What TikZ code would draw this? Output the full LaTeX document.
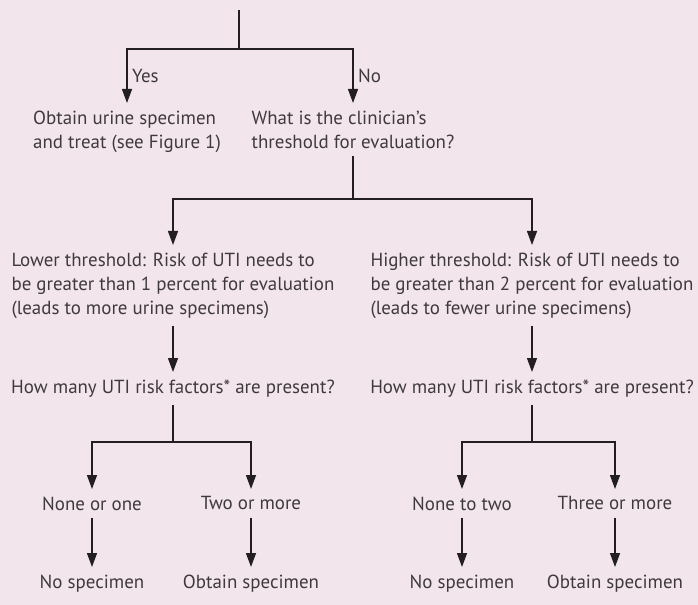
\documentclass[tikz,border=0pt]{standalone}
\usepackage{fontspec}
\setmainfont{PT Sans}
\usetikzlibrary{arrows.meta}
\definecolor{bgpink}{RGB}{243,229,236}
\definecolor{txtgray}{RGB}{62,58,60}
\definecolor{linegray}{RGB}{35,31,32}

\begin{document}
\begin{tikzpicture}[x=0.75pt,y=-0.75pt,
  every node/.style={font=\fontsize{14.2}{18}\selectfont,text=txtgray},
  lbl/.style={align=left,inner xsep=0pt,inner ysep=5.5pt},
  br/.style={line width=1pt,draw=linegray},
  ar/.style={br,-{Triangle[length=10.5pt,width=7.5pt]}}]
\fill[bgpink] (0,0) rectangle (698,605);
\coordinate (top) at (239,10);
\coordinate (s1) at (239,49);
\node[lbl,anchor=north] (obt) at (127,103) {Obtain urine specimen\\and treat (see Figure 1)};
\node[lbl,anchor=north] (clin) at (353,103) {What is the clinician’s\\threshold for evaluation?};
\coordinate (s2) at (353,199);
\node[lbl,anchor=north] (low) at (173,245) {Lower threshold: Risk of UTI needs to\\be greater than 1 percent for evaluation\\(leads to more urine specimens)};
\node[lbl,anchor=north] (high) at (532,245) {Higher threshold: Risk of UTI needs to\\be greater than 2 percent for evaluation\\(leads to fewer urine specimens)};
\node[lbl,anchor=north] (q1) at (173,372) {How many UTI risk factors* are present?};
\node[lbl,anchor=north] (q2) at (532,372) {How many UTI risk factors* are present?};
\coordinate (s3) at (173,442);
\coordinate (s4) at (532,442);
\node[lbl,anchor=north] (n1) at (92,489) {None or one};
\node[lbl,anchor=north] (t1) at (251,489) {Two or more};
\node[lbl,anchor=north] (n2) at (462,489) {None to two};
\node[lbl,anchor=north] (t2) at (615,489) {Three or more};
\node[lbl,anchor=north] (r1) at (92,567) {No specimen};
\node[lbl,anchor=north] (r2) at (251,567) {Obtain specimen};
\node[lbl,anchor=north] (r3) at (462,567) {No specimen};
\node[lbl,anchor=north] (r4) at (615,567) {Obtain specimen};
\draw[br] (top) -- (s1);
\draw[ar] (s1) -| node[pos=0.75,right]{Yes} (obt);
\draw[ar] (s1) -| node[pos=0.75,right]{No} (clin);
\draw[br] (clin) -- (s2);
\draw[ar] (s2) -| (low); \draw[ar] (s2) -| (high);
\draw[ar] (low) -- (q1); \draw[ar] (high) -- (q2);
\draw[br] (q1) -- (s3); \draw[br] (q2) -- (s4);
\draw[ar] (s3) -| (n1); \draw[ar] (s3) -| (t1);
\draw[ar] (s4) -| (n2); \draw[ar] (s4) -| (t2);
\draw[ar] (n1) -- (r1); \draw[ar] (t1) -- (r2);
\draw[ar] (n2) -- (r3); \draw[ar] (t2) -- (r4);
\end{tikzpicture}
\end{document}
